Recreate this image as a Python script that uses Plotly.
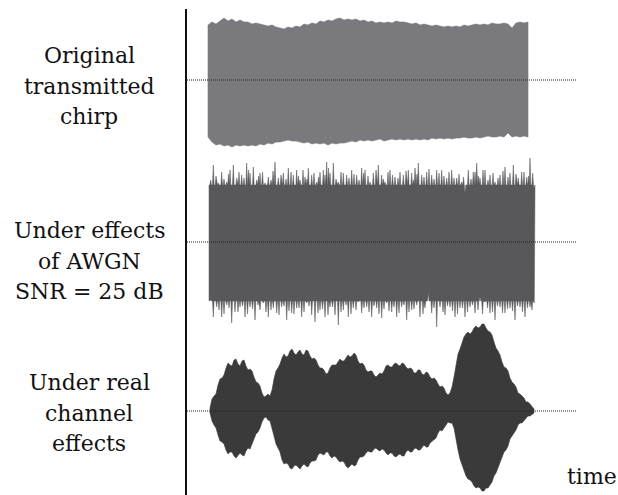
import plotly.graph_objects as go

# ---------------- data (time in samples, amplitude in arbitrary units) ----------------
GRID_W1 = [0, 4, 8, 12, 16, 20, 24, 28, 32, 36, 40, 44, 48, 52, 56, 60, 64, 68, 72, 76,
           80, 84, 88, 92, 96, 100, 104, 108, 112, 116, 120, 124, 128, 132, 136, 140, 144,
           148, 152, 156, 160, 164, 168, 172, 176, 180, 184, 188, 192, 196, 200, 204, 208,
           212, 216, 220, 224, 228, 232, 236, 240, 244, 248, 252, 256, 260, 264, 268, 272,
           276, 280, 284, 288, 292, 296, 300, 304, 308, 312, 316, 320]
W1_TOP = [55, 58, 56, 59, 62, 59, 61, 58, 60, 58, 58, 56, 57, 56, 55, 54, 55, 53, 52, 51,
          53, 52, 54, 53, 56, 55, 57, 56, 59, 58, 60, 59, 61, 62, 60, 61, 60, 61, 59, 60,
          58, 59, 57, 58, 57, 58, 57, 59, 58, 58, 57, 56, 57, 55, 56, 55, 54, 55, 54, 53,
          54, 53, 54, 53, 55, 54, 55, 56, 55, 56, 55, 57, 56, 56, 57, 56, 52, 57, 58, 57, 58]
W1_BOT = [57, 62, 65, 64, 66, 65, 67, 65, 66, 65, 66, 65, 66, 64, 65, 63, 64, 62, 62, 61,
          60, 61, 61, 62, 63, 62, 64, 63, 64, 63, 65, 63, 64, 63, 63, 62, 61, 62, 60, 61,
          60, 61, 60, 59, 61, 60, 59, 60, 59, 60, 59, 60, 59, 60, 59, 60, 58, 59, 58, 59,
          58, 59, 58, 58, 57, 58, 58, 57, 58, 57, 56, 57, 57, 56, 57, 53, 57, 56, 57, 56, 57]

W2_START, W2_END = 1, 327
W2_BASE_TOP, W2_BASE_BOT = 57, 59
W2_SPIKE_T_TOP = [2.7, 5.3, 10.3, 13.7, 18.7, 22, 25.3, 28.7, 33.7, 38.7, 42, 45.3, 48.7, 52,
                  57, 60.3, 67, 70.3, 75.3, 80.3, 85.3, 88.7, 92, 97, 100.3, 103.7, 108.7,
                  112, 115.3, 118.7, 122, 125.3, 130.3, 135.3, 138.7, 143.7, 148.7, 153.7,
                  157, 162, 165.3, 170.3, 173.7, 177, 182, 187, 192, 195.3, 200.3, 203.7,
                  207, 210.3, 213.7, 218.7, 223.7, 228.7, 233.7, 238.7, 243.7, 248.7, 253.7,
                  257, 260.3, 265.3, 268.7, 272, 277, 282, 287, 292, 297, 302, 305.3, 310.3,
                  313.7, 318.7, 322, 324.7, 326.3]
W2_SPIKE_A_TOP = [62, 77, 59, 70, 60, 72, 77, 64, 67, 79, 69, 75, 62, 69, 59, 65, 80, 64,
                  69, 74, 67, 72, 62, 65, 74, 67, 60, 70, 72, 80, 69, 79, 60, 69, 67, 72, 67,
                  74, 72, 60, 69, 77, 67, 60, 72, 65, 70, 67, 72, 69, 74, 79, 67, 70, 67, 72,
                  72, 64, 72, 64, 60, 49, 72, 70, 79, 64, 72, 67, 60, 67, 75, 69, 77, 64, 70,
                  65, 84, 69, 54]
W2_SPIKE2_T_TOP = [8, 16, 20.5, 31, 36, 40.5, 50.5, 54.5, 63, 65, 73, 78, 83, 90.5, 95, 99,
                   106, 110.5, 117, 120.5, 128, 133, 141, 146, 151, 155.5, 160, 168, 175.5,
                   180, 184.5, 190, 198, 205.5, 209, 216, 221, 226, 231, 236, 241, 246, 251,
                   255.5, 263, 267, 270.5, 275, 280, 285, 290, 295, 300, 308, 316, 320.5]
W2_SPIKE2_A_TOP = [66, 63, 68, 70, 64, 72, 66, 70, 62, 71, 67, 63, 70, 66, 72, 63, 69, 65,
                   67, 74, 63, 70, 64, 68, 62, 69, 66, 72, 63, 70, 67, 64, 71, 62, 68, 65,
                   73, 63, 69, 66, 70, 64, 68, 65, 63, 70, 66, 72, 62, 69, 64, 71, 65, 68,
                   70, 66]
W2_SPIKE_T_BOT = [2.7, 5.3, 8.7, 13.7, 18.7, 23.7, 27, 32, 37, 42, 47, 52, 55.3, 60.3, 65.3,
                  68.7, 73.7, 78.7, 83.7, 88.7, 93.7, 98.7, 103.7, 107, 112, 117, 122, 127,
                  130.3, 135.3, 140.3, 145.3, 150.3, 153.7, 158.7, 163.7, 168.7, 173.7,
                  178.7, 183.7, 188.7, 193.7, 198.7, 203.7, 208.7, 212, 217, 220.3, 223.7,
                  228.7, 232, 237, 242, 247, 252, 257, 262, 267, 272, 277, 282, 287, 292,
                  297, 302, 307, 312, 317, 322, 326.3]
W2_SPIKE_A_BOT = [58, 75, 65, 75, 63, 81, 70, 65, 75, 65, 78, 68, 61, 75, 66, 71, 65, 78,
                  71, 66, 75, 61, 73, 80, 68, 75, 65, 73, 83, 68, 75, 66, 60, 71, 65, 75, 66,
                  76, 61, 70, 75, 65, 78, 68, 63, 75, 66, 51, 71, 85, 65, 73, 65, 75, 66, 75,
                  65, 71, 55, 60, 71, 78, 65, 71, 66, 78, 65, 75, 65, 61]
W2_SPIKE2_T_BOT = [11, 16, 21, 30, 34.5, 39.5, 44.5, 50, 58, 63, 71, 76, 81, 86, 91, 96,
                   101, 110, 114.5, 120, 124.5, 133, 138, 143, 148, 156, 161, 166, 171, 176,
                   181, 186, 191, 196, 201, 206, 215, 226, 235, 239.5, 244.5, 249.5, 254.5,
                   259.5, 264.5, 270, 274.5, 279.5, 284.5, 289.5, 294.5, 299.5, 304.5, 309.5,
                   314.5, 319.5, 324]
W2_SPIKE2_A_BOT = [68, 72, 66, 70, 64, 72, 67, 63, 70, 68, 73, 64, 69, 72, 66, 70, 64, 71,
                   67, 73, 65, 70, 63, 72, 68, 66, 70, 64, 72, 67, 69, 65, 71, 63, 70, 67,
                   72, 66, 70, 64, 69, 72, 66, 70, 63, 68, 72, 66, 70, 64, 71, 67, 69, 64,
                   70, 66, 68]

W3_T0, W3_DT = 2, 2
W3_TOP = [3, 12, 15, 17, 26, 32, 33, 36, 43, 48,
          46, 45, 51, 52, 47, 45, 50, 51, 45, 41,
          42, 40, 34, 29, 28, 25, 18, 14, 15, 17,
          15, 21, 32, 40, 43, 47, 53, 57, 54, 55,
          60, 62, 58, 56, 59, 61, 57, 56, 61, 60,
          55, 52, 53, 51, 46, 43, 43, 41, 37, 38,
          43, 46, 46, 46, 49, 52, 50, 50, 53, 56,
          54, 55, 58, 56, 50, 47, 48, 46, 41, 39,
          40, 40, 36, 34, 36, 38, 37, 40, 45, 46,
          44, 44, 47, 48, 46, 45, 48, 47, 44, 42,
          43, 42, 38, 38, 41, 41, 37, 36, 39, 38,
          34, 32, 33, 31, 27, 24, 25, 23, 18, 16,
          18, 24, 34, 47, 57, 62, 69, 74, 77, 79,
          77, 79, 83, 85, 83, 84, 87, 87, 83, 80,
          79, 76, 69, 63, 60, 56, 49, 44, 43, 40,
          33, 29, 27, 24, 18, 17, 15, 13, 9, 9,
          7, 5, 2]
W3_BOT = [2, 10, 14, 17, 24, 30, 31, 33, 39, 43,
          41, 41, 45, 47, 44, 42, 44, 45, 40, 37,
          38, 35, 28, 23, 21, 17, 11, 7, 6, 9,
          10, 16, 25, 33, 37, 41, 49, 53, 52, 53,
          57, 58, 55, 54, 56, 58, 55, 53, 55, 56,
          52, 50, 50, 49, 44, 42, 43, 44, 41, 41,
          45, 47, 45, 46, 49, 51, 50, 51, 55, 57,
          55, 53, 55, 54, 49, 46, 46, 45, 42, 40,
          41, 41, 38, 37, 39, 40, 38, 39, 42, 44,
          42, 42, 45, 46, 44, 43, 45, 45, 41, 39,
          41, 41, 38, 37, 39, 39, 36, 34, 36, 36,
          32, 30, 29, 27, 22, 19, 20, 18, 14, 11,
          12, 12, 17, 28, 39, 48, 54, 59, 65, 68,
          69, 71, 75, 77, 76, 77, 80, 80, 77, 77,
          74, 71, 65, 62, 57, 53, 46, 41, 39, 35,
          28, 24, 22, 19, 14, 12, 12, 10, 7, 5,
          5, 4, 2]

LABELS = [["Original", "transmitted", "chirp"],
          ["Under effects", "of AWGN", "SNR = 25 dB"],
          ["Under real", "channel", "effects"]]
AXIS_LABEL = "time"

# ---------------- layout constants ----------------
OFFSETS = [0, -162, -331]
COLORS = ["rgb(122,122,126)", "rgb(88,88,90)", "rgb(58,58,58)"]
FONT = "DejaVu Serif, DejaVu Sans, sans-serif"
FONT_SIZE = 22


def envelope_polygon(t_top, a_top, t_bot, a_bot, off):
    xs = list(t_top) + list(reversed(t_bot)) + [t_top[0]]
    ys = [off + a for a in a_top] + [off - a for a in reversed(a_bot)] + [off + a_top[0]]
    return xs, ys


def spiky_edge(t0, t1, base, ts, amps, half=0.8):
    pairs = sorted(zip(ts, amps))
    pts_t = [t0]
    pts_a = [base]
    for t, a in pairs:
        pts_t += [max(t0, t - half), t, min(t1, t + half)]
        pts_a += [base, a, base]
    pts_t.append(t1)
    pts_a.append(base)
    return pts_t, pts_a


fig = go.Figure()

# wave 1: original chirp
x1, y1 = envelope_polygon(GRID_W1, W1_TOP, GRID_W1, W1_BOT, OFFSETS[0])
fig.add_trace(go.Scatter(x=x1, y=y1, fill="toself", fillcolor=COLORS[0], mode="lines",
                         line=dict(color=COLORS[0], width=0.6), hoverinfo="skip"))

# wave 2: AWGN
tt, at = spiky_edge(W2_START, W2_END, W2_BASE_TOP,
                    W2_SPIKE_T_TOP + W2_SPIKE2_T_TOP, W2_SPIKE_A_TOP + W2_SPIKE2_A_TOP)
tb, ab = spiky_edge(W2_START, W2_END, W2_BASE_BOT,
                    W2_SPIKE_T_BOT + W2_SPIKE2_T_BOT, W2_SPIKE_A_BOT + W2_SPIKE2_A_BOT)
x2, y2 = envelope_polygon(tt, at, tb, ab, OFFSETS[1])
fig.add_trace(go.Scatter(x=x2, y=y2, fill="toself", fillcolor=COLORS[1], mode="lines",
                         line=dict(color=COLORS[1], width=0.5), hoverinfo="skip"))

# wave 3: real channel
grid3 = [W3_T0 + W3_DT * i for i in range(len(W3_TOP))]
x3, y3 = envelope_polygon(grid3, W3_TOP, grid3, W3_BOT, OFFSETS[2])
fig.add_trace(go.Scatter(x=x3, y=y3, fill="toself", fillcolor=COLORS[2], mode="lines",
                         line=dict(color=COLORS[2], width=0.6), hoverinfo="skip"))

shapes = []
for off in OFFSETS:
    shapes.append(dict(type="line", xref="x", yref="y", x0=-21, x1=368, y0=off, y1=off,
                       line=dict(color="#222", width=1, dash="1px,1px"), layer="above"))
shapes.append(dict(type="line", xref="x", yref="y", x0=-22, x1=-22, y0=71, y1=-420,
                   line=dict(color="#111", width=2), layer="above"))

annotations = []
block_mid = [13, 26, 9]
for lines, off, mid in zip(LABELS, OFFSETS, block_mid):
    for i, txt in enumerate(lines):
        baseline = off - mid - (i - 1) * 30.5
        annotations.append(dict(x=-119, y=baseline + 7, xref="x", yref="y", text=txt,
                                showarrow=False, xanchor="center", yanchor="middle",
                                font=dict(family=FONT, size=FONT_SIZE, color="#111")))
annotations.append(dict(x=384, y=-403 + 7, xref="x", yref="y", text=AXIS_LABEL,
                        showarrow=False, xanchor="center", yanchor="middle",
                        font=dict(family=FONT, size=FONT_SIZE, color="#111")))

fig.update_layout(
    width=618, height=495, autosize=False,
    margin=dict(l=0, r=0, t=0, b=0),
    paper_bgcolor="white", plot_bgcolor="white",
    showlegend=False,
    xaxis=dict(range=[-208, 410], visible=False, fixedrange=True),
    yaxis=dict(range=[-415, 80], visible=False, fixedrange=True),
    shapes=shapes, annotations=annotations,
)

fig.write_html("out.html", config={"displayModeBar": False})
